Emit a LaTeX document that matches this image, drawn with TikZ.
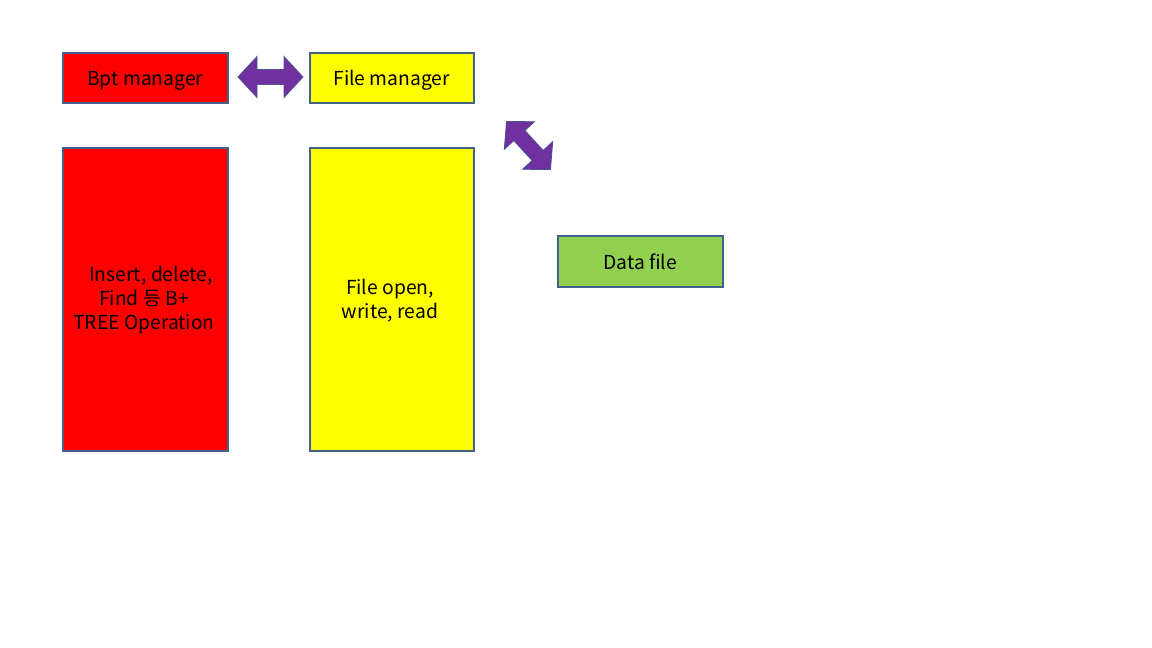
\documentclass[tikz,border=0pt]{standalone}
\usepackage{fontspec}
\setmainfont{Noto Sans CJK KR}
\definecolor{edge}{HTML}{41608A}
\definecolor{boxred}{HTML}{FF0000}
\definecolor{boxyellow}{HTML}{FFFF00}
\definecolor{boxgreen}{HTML}{92D050}
\definecolor{arrowpurple}{HTML}{7030A0}
\tikzset{
  txt/.style={font=\fontsize{19.3}{24}\selectfont, text=black, align=center},
  box/.style={txt, draw=edge, line width=1.6pt, inner sep=0pt, anchor=north west,
    text height=16pt, text depth=0pt},
  blockarrow/.style={fill=arrowpurple, draw=edge!70!arrowpurple, line width=0.8pt, line join=miter}
}
\newcommand{\dblarrow}{%
  (-32.5,0) -- (-13.5,-20.5) -- (-13.5,-7.5) -- (13.5,-7.5) -- (13.5,-20.5) --
  (32.5,0) -- (13.5,20.5) -- (13.5,7.5) -- (-13.5,7.5) -- (-13.5,20.5) -- cycle}
\begin{document}
\begin{tikzpicture}[x=1pt,y=-1pt]
\useasboundingbox (0,0) rectangle (1152,648);
\fill[white] (0,0) rectangle (1152,648);

\node[box, fill=boxred, minimum width=165pt, minimum height=50pt] (bpt) at (62,52) {Bpt manager};
\node[box, fill=boxyellow, minimum width=164pt, minimum height=50pt] (fm) at (309,52) {File manager};
\node[box, fill=boxred, minimum width=165pt, minimum height=303pt] (ops) at (62,147) {};
\node[box, fill=boxyellow, minimum width=164pt, minimum height=303pt] (fio) at (309,147) {};
\node[box, fill=boxgreen, minimum width=165pt, minimum height=51pt] (data) at (557,235) {Data file};

\node[txt, inner sep=0pt] (opstext) at (144,300)
  {\hspace*{14pt}Insert, delete,\\Find 등 B+\\TREE Operation};
\node[txt, inner sep=0pt] (fiotext) at (390,301)
  {File open,\\write, read};

\begin{scope}[shift={(270.5,77)}]
  \draw[blockarrow] \dblarrow;
\end{scope}
\begin{scope}[shift={(528.5,145.5)}, rotate=-47.5]
  \draw[blockarrow] \dblarrow;
\end{scope}
\end{tikzpicture}
\end{document}
